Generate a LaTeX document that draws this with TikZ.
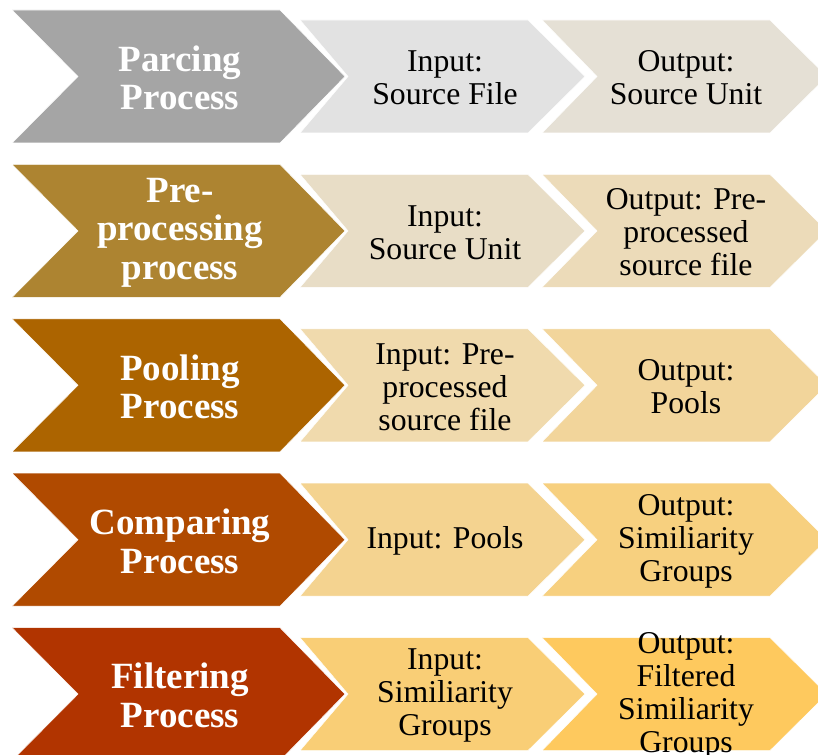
\documentclass[tikz,border=0pt]{standalone}
\usepackage{fontspec}
\setmainfont{Liberation Serif}

\definecolor{stage1}{HTML}{A5A5A5}
\definecolor{stage2}{HTML}{AD8431}
\definecolor{stage3}{HTML}{AC6400}
\definecolor{stage4}{HTML}{B04A00}
\definecolor{stage5}{HTML}{B13400}
\definecolor{in1}{HTML}{E2E2E2}
\definecolor{in2}{HTML}{E8DDC6}
\definecolor{in3}{HTML}{F0DAAD}
\definecolor{in4}{HTML}{F4D390}
\definecolor{in5}{HTML}{F9CE76}
\definecolor{out1}{HTML}{E5E0D5}
\definecolor{out2}{HTML}{ECDBB9}
\definecolor{out3}{HTML}{F2D59B}
\definecolor{out4}{HTML}{F7D07F}
\definecolor{out5}{HTML}{FEC95E}

\tikzset{
  chevron/.style={draw=white, line width=0.4pt},
  stagetext/.style={text=white, align=center,
    font=\fontsize{27.75}{28.9}\selectfont\bfseries},
  iotext/.style={text=black, align=center,
    font=\fontsize{23.8}{24.75}\selectfont},
}

\begin{document}
\begin{tikzpicture}[x=0.75pt,y=-0.75pt]
    \useasboundingbox (0,0) rectangle (818,755);
    \clip (0,0) rectangle (818,755);
    \foreach \i/\stage/\inp/\outp in {
        1/{Parcing\\Process}/{Input:\\Source File}/{Output:\\Source Unit},
        2/{Pre-\\processing\\process}/{Input:\\Source Unit}/{Output: Pre-\\processed\\source file},
        3/{Pooling\\Process}/{Input: Pre-\\processed\\source file}/{Output:\\Pools},
        4/{Comparing\\Process}/{Input: Pools}/{Output:\\Similiarity\\Groups},
        5/{Filtering\\Process}/{Input:\\Similiarity\\Groups}/{Output:\\Filtered\\Similiarity\\Groups}}
    {
        \pgfmathsetmacro\t{10+154.4*(\i-1)}
        % big chevron
        \filldraw[chevron, fill=stage\i]
            (12,\t) -- (280,\t) -- (345,\t+66.5) -- (280,\t+133)
            -- (12,\t+133) -- (78,\t+66.5) -- cycle;
        % input chevron
        \filldraw[chevron, fill=in\i]
            (300,\t+10) -- (528,\t+10) -- (585,\t+66.5) -- (528,\t+123)
            -- (300,\t+123) -- (348,\t+66.5) -- cycle;
        % output chevron
        \filldraw[chevron, fill=out\i]
            (542,\t+10) -- (770,\t+10) -- (827,\t+66.5) -- (770,\t+123)
            -- (542,\t+123) -- (597,\t+66.5) -- cycle;
        \node[stagetext] (stage\i) at (180,\t+68) {\stage};
        \node[iotext] (in\i) at (445,\t+68) {\inp};
        \node[iotext] (out\i) at (686,\t+68) {\outp};
    }
\end{tikzpicture}
\end{document}
